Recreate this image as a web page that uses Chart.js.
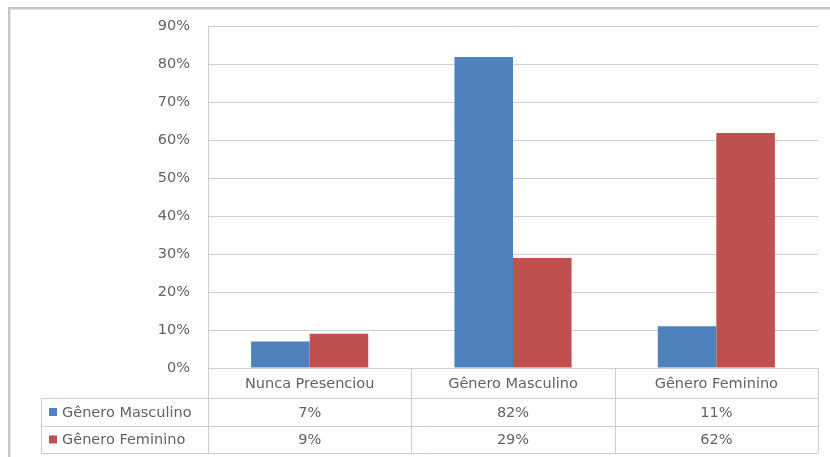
<!DOCTYPE html>
<html>
<head>
<meta charset="utf-8">
<script src="https://cdn.jsdelivr.net/npm/chart.js@4"></script>
<style>
    html, body { margin: 0; padding: 0; background: #fff; }
    #wrap { position: relative; width: 830px; height: 457px; }
    #frame {
        position: absolute; left: 8px; top: 7px; width: 840px; height: 470px;
        border-left: 2px solid #c4c4c4; border-top: 2px solid #c4c4c4;
        box-shadow: inset 1px 1px 0 #e6e6e6;
    }
    canvas { position: absolute; left: 0; top: 0; }
</style>
</head>
<body>
<div id="wrap">
    <div id="frame"></div>
    <canvas id="chart" width="830" height="457"></canvas>
</div>
<script>
// categories & series (percent)
const categories = ['Nunca Presenciou', 'Gênero Masculino', 'Gênero Feminino'];
const masculino = [7, 82, 11];
const feminino = [9, 29, 62];
const seriesNames = ['Gênero Masculino', 'Gênero Feminino'];
const yTicks = [0, 10, 20, 30, 40, 50, 60, 70, 80, 90];

const COLORS = ['#4F81BD', '#C0504D'];
const FONT = 'DejaVu Sans';
const FONT_SIZE = 14.5;
const TEXT = '#636363';
const LINE = '#cfcfcf';

const TABLE_LEFT = 41;
const ROW_H = [30, 28, 27];

// data table under the plot, drawn from the x scale
const tablePlugin = {
    id: 'dataTable',
    afterDraw(chart) {
        const ctx = chart.ctx;
        const area = chart.chartArea;
        const x = chart.scales.x;
        const rows = [area.bottom];
        ROW_H.forEach(h => rows.push(rows[rows.length - 1] + h));
        const half = (x.getPixelForValue(1) - x.getPixelForValue(0)) / 2;

        ctx.save();
        ctx.strokeStyle = LINE;
        ctx.lineWidth = 1;
        ctx.beginPath();
        // horizontal lines
        ctx.moveTo(area.left, rows[0] + 0.5); ctx.lineTo(area.right, rows[0] + 0.5);
        for (let i = 1; i < rows.length; i++) {
            ctx.moveTo(TABLE_LEFT, rows[i] + 0.5); ctx.lineTo(area.right, rows[i] + 0.5);
        }
        // vertical lines
        ctx.moveTo(TABLE_LEFT + 0.5, rows[1]); ctx.lineTo(TABLE_LEFT + 0.5, rows[3]);
        categories.forEach((c, i) => {
            const px = Math.round(x.getPixelForValue(i) - half) + 0.5;
            ctx.moveTo(px, rows[0]); ctx.lineTo(px, rows[3]);
        });
        ctx.moveTo(area.right + 0.5, rows[0]); ctx.lineTo(area.right + 0.5, rows[3]);
        ctx.stroke();

        ctx.font = FONT_SIZE + 'px "' + FONT + '"';
        ctx.fillStyle = TEXT;
        ctx.textAlign = 'center';
        ctx.textBaseline = 'middle';
        categories.forEach((c, i) => {
            const cx = x.getPixelForValue(i);
            ctx.fillText(c, cx, (rows[0] + rows[1]) / 2 + 1);
            ctx.fillText(masculino[i] + '%', cx, (rows[1] + rows[2]) / 2 + 1);
            ctx.fillText(feminino[i] + '%', cx, (rows[2] + rows[3]) / 2 + 1);
        });

        // legend keys in the row headers
        ctx.textAlign = 'left';
        seriesNames.forEach((n, i) => {
            const cy = (rows[i + 1] + rows[i + 2]) / 2;
            ctx.fillStyle = COLORS[i];
            ctx.fillRect(TABLE_LEFT + 8, cy - 4, 8, 8);
            ctx.fillStyle = TEXT;
            ctx.fillText(n, TABLE_LEFT + 21, cy + 1);
        });
        ctx.restore();
    }
};

new Chart(document.getElementById('chart'), {
    type: 'bar',
    data: {
        labels: categories,
        datasets: [
            { label: seriesNames[0], data: masculino, backgroundColor: COLORS[0] },
            { label: seriesNames[1], data: feminino, backgroundColor: COLORS[1] }
        ]
    },
    options: {
        responsive: false,
        animation: false,
        categoryPercentage: 0.576,
        barPercentage: 1,
        layout: { padding: { left: 10, right: 12, top: 26, bottom: 89 } },
        plugins: { legend: { display: false }, tooltip: { enabled: false } },
        scales: {
            x: {
                afterFit(scale) { scale.height = 0; },
                ticks: { display: false },
                grid: { display: false },
                border: { display: false }
            },
            y: {
                min: 0,
                max: 90,
                afterFit(scale) { scale.width = 198; },
                afterBuildTicks(scale) { scale.ticks = yTicks.map(v => ({ value: v })); },
                ticks: {
                    padding: 18,
                    color: TEXT,
                    font: { family: FONT, size: FONT_SIZE },
                    callback: v => v + '%'
                },
                grid: { color: LINE, drawTicks: false },
                border: { color: LINE }
            }
        }
    },
    plugins: [tablePlugin]
});
</script>
</body>
</html>
